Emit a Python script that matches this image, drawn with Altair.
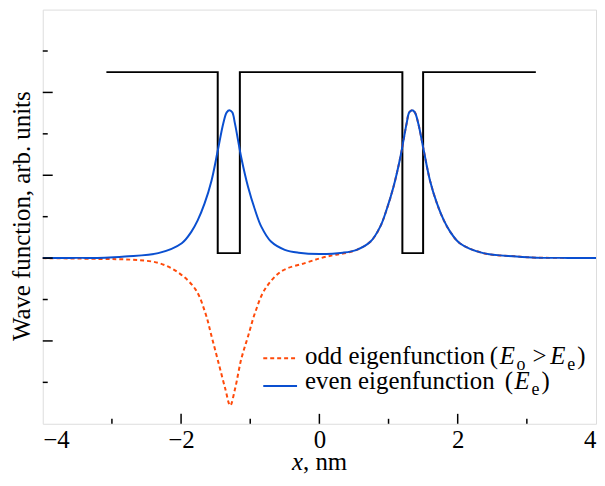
import altair as alt
import pandas as pd

# ---- data ----
even_x = [-4.0, -3.6, -3.1, -2.81, -2.33, -1.99, -1.85, -1.76, -1.66, -1.56, -1.47, -1.39, -1.34, -1.30,
          -1.26, -1.22, -1.13, -1.03, -0.93, -0.84, -0.70, -0.50, -0.30, 0.0, 0.34, 0.54, 0.74, 0.88,
          0.97, 1.07, 1.17, 1.26, 1.30, 1.34, 1.38, 1.43, 1.51, 1.60, 1.70, 1.80, 1.89, 2.03, 2.37,
          2.85, 3.14, 3.6, 4.0]
even_y = [0.0, 0.005, 0.01, 0.04, 0.12, 0.36, 0.64, 0.91, 1.32, 1.87, 2.59, 3.25, 3.52, 3.57,
          3.52, 3.24, 2.43, 1.71, 1.16, 0.76, 0.40, 0.20, 0.13, 0.10, 0.13, 0.20, 0.40, 0.76,
          1.16, 1.71, 2.43, 3.24, 3.52, 3.57, 3.52, 3.25, 2.59, 1.87, 1.32, 0.91, 0.64, 0.36, 0.12,
          0.04, 0.01, 0.005, 0.0]

odd_x = [-4.0, -3.18, -2.71, -2.32, -2.03, -1.79, -1.65, -1.56, -1.46, -1.36, -1.29, -1.22, -1.13,
         -1.03, -0.93, -0.79, -0.55, -0.21, 0.02, 0.20, 0.34, 0.54, 0.74, 0.88, 0.97, 1.07, 1.17,
         1.26, 1.30, 1.34, 1.38, 1.43, 1.51, 1.60, 1.70, 1.80, 1.89, 2.03, 2.37, 2.85, 3.14, 3.6, 4.0]
odd_y = [0.0, -0.02, -0.04, -0.12, -0.36, -0.76, -1.32, -1.88, -2.52, -3.16, -3.56, -3.16, -2.44,
         -1.88, -1.32, -0.76, -0.32, -0.12, 0.0, 0.07, 0.11, 0.20, 0.40, 0.76, 1.16, 1.71, 2.43,
         3.24, 3.52, 3.57, 3.52, 3.25, 2.59, 1.87, 1.32, 0.91, 0.64, 0.36, 0.12, 0.04, 0.01, 0.005, 0.0]

pot_x = [-3.08, -1.47, -1.47, -1.15, -1.15, 1.20, 1.20, 1.50, 1.50, 3.13]
pot_y = [4.49, 4.49, 0.12, 0.12, 4.49, 4.49, 0.12, 0.12, 4.49, 4.49]

x_major = [-2, 0, 2]
x_minor = [-3, -1, 1, 3]
y_major = [-2, 0, 2, 4]
y_minor = [-3, -1, 1, 3, 5]
x_labels = [-4, -2, 0, 2, 4]

FONT = "Liberation Serif"
W, H = 557, 417
BLUE = "#0a4fd0"
RED = "#ff4a0a"

xs = alt.Scale(domain=[-4, 4], nice=False, zero=False)
ys = alt.Scale(domain=[-4, 6], nice=False, zero=False)

even_df = pd.DataFrame({"x": even_x, "y": even_y})
odd_df = pd.DataFrame({"x": odd_x, "y": odd_y})
pot_df = pd.DataFrame({"x": pot_x, "y": pot_y, "i": list(range(len(pot_x)))})

xaxis = alt.Axis(values=x_labels, ticks=False, domain=False, grid=False, title=None,
                 labelFont=FONT, labelFontSize=25, labelColor="black", labelPadding=4,
                 labelExpr="datum.value < 0 ? '\u2212' + abs(datum.value) : '' + datum.value")
yaxis = alt.Axis(values=[], ticks=False, domain=False, grid=False, labels=False,
                 title="Wave function, arb. units", titleFont=FONT, titleFontSize=25,
                 titleFontWeight="normal", titleColor="black", titleX=-21, titleY=H / 2 - 1,
                 titleAngle=-90, titleAlign="center", titleBaseline="middle")

pot = alt.Chart(pot_df).mark_line(color="black", strokeWidth=2, strokeJoin="miter").encode(
    x=alt.X("x:Q", scale=xs, axis=xaxis),
    y=alt.Y("y:Q", scale=ys, axis=yaxis),
    order="i:Q")

odd = alt.Chart(odd_df).mark_line(color=RED, strokeWidth=2, strokeDash=[4, 3],
                                  interpolate="catmull-rom").encode(
    x=alt.X("x:Q", scale=xs), y=alt.Y("y:Q", scale=ys))

even = alt.Chart(even_df).mark_line(color=BLUE, strokeWidth=2, interpolate="catmull-rom").encode(
    x=alt.X("x:Q", scale=xs), y=alt.Y("y:Q", scale=ys))

xt_major = alt.Chart(pd.DataFrame({"v": x_major})).mark_rule(color="black", strokeWidth=1.5).encode(
    x=alt.X("v:Q", scale=xs), y=alt.value(H), y2=alt.value(H - 10))
xt_minor = alt.Chart(pd.DataFrame({"v": x_minor})).mark_rule(color="black", strokeWidth=1.5).encode(
    x=alt.X("v:Q", scale=xs), y=alt.value(H), y2=alt.value(H - 5))
yt_major = alt.Chart(pd.DataFrame({"v": y_major})).mark_rule(color="black", strokeWidth=1.5).encode(
    y=alt.Y("v:Q", scale=ys), x=alt.value(0), x2=alt.value(10))
yt_minor = alt.Chart(pd.DataFrame({"v": y_minor})).mark_rule(color="black", strokeWidth=1.5).encode(
    y=alt.Y("v:Q", scale=ys), x=alt.value(0), x2=alt.value(5))


def txt(s, x, y, size=25, italic=False):
    return alt.Chart(pd.DataFrame({"t": [s]})).mark_text(
        font=FONT, fontSize=size, fontStyle="italic" if italic else "normal",
        align="left", baseline="alphabetic", color="black").encode(
        x=alt.value(x), y=alt.value(y), text="t:N")


# legend samples
leg_red = alt.Chart(pd.DataFrame({"a": [0]})).mark_rule(color=RED, strokeWidth=2, strokeDash=[4, 3]).encode(
    x=alt.value(222), x2=alt.value(256), y=alt.value(351))
leg_blue = alt.Chart(pd.DataFrame({"a": [0]})).mark_rule(color=BLUE, strokeWidth=2).encode(
    x=alt.value(222), x2=alt.value(256), y=alt.value(379))

L1, L2 = 357, 382
SUB = 18
texts = [
    txt("odd eigenfunction", 264, L1),
    txt("(", 450, L1),
    txt("E", 460, L1, italic=True),
    txt("o", 477, L1 + 6, size=SUB),
    txt(">", 493, L1),
    txt("E", 511, L1, italic=True),
    txt("e", 528, L1 + 6, size=SUB),
    txt(")", 538, L1),
    txt("even eigenfunction", 264, L2),
    txt("(", 465, L2),
    txt("E", 475, L2, italic=True),
    txt("e", 492, L2 + 6, size=SUB),
    txt(")", 502, L2),
    # x-axis title
    txt("x", 251, 464, italic=True),
    txt(", nm", 262, 464),
]

chart = alt.layer(pot, odd, even, xt_major, xt_minor, yt_major, yt_minor, leg_red, leg_blue, *texts).properties(
    width=W, height=H, autosize="none",
    padding={"left": 35, "top": 0, "right": 1, "bottom": 53}
).configure_view(stroke="black", strokeWidth=2).configure(background="white")

chart.save("out.html", embed_options={"renderer": "svg", "actions": False})
